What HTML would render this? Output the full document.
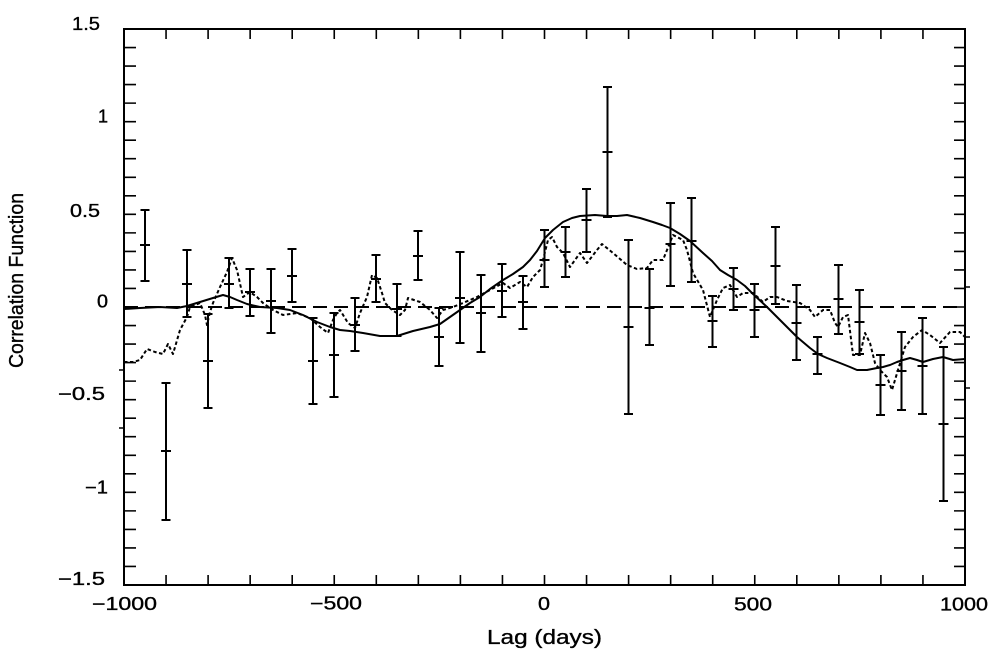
<!DOCTYPE html>
<html><head><meta charset="utf-8"><style>
html,body{margin:0;padding:0;background:#fff;}
svg{display:block;}
text{font-family:"Liberation Sans",sans-serif;fill:#000;stroke:#000;stroke-width:0.35;}
</style></head><body>
<svg width="996" height="652" viewBox="0 0 996 652" xmlns="http://www.w3.org/2000/svg">
<rect width="996" height="652" fill="#fff"/>
<!-- axes frame -->
<rect x="124" y="29" width="841" height="556" fill="none" stroke="#000" stroke-width="2"/>
<!-- x ticks -->
<path stroke="#000" stroke-width="1.6" fill="none" d="
M166.05 585v-10M208.1 585v-10M250.15 585v-10M292.2 585v-10M334.25 585v-10M376.3 585v-10M418.35 585v-10M460.4 585v-10M502.45 585v-10M544.5 585v-10M586.55 585v-10M628.6 585v-10M670.65 585v-10M712.7 585v-10M754.75 585v-10M796.8 585v-10M838.85 585v-10M880.9 585v-10M922.95 585v-10
M166.05 29v10M208.1 29v10M250.15 29v10M292.2 29v10M334.25 29v10M376.3 29v10M418.35 29v10M460.4 29v10M502.45 29v10M544.5 29v10M586.55 29v10M628.6 29v10M670.65 29v10M712.7 29v10M754.75 29v10M796.8 29v10M838.85 29v10M880.9 29v10M922.95 29v10"/>
<!-- y ticks -->
<path stroke="#000" stroke-width="1.6" fill="none" d="
M124 47.53h12M124 66.07h12M124 84.6h12M124 103.13h12M124 121.67h12M124 140.2h12M124 158.73h12M124 177.27h12M124 195.8h12M124 214.33h12M124 232.87h12M124 251.4h12M124 269.93h12M124 288.47h12M124 307h12M124 325.53h12M124 344.07h12M124 362.6h12M124 381.13h12M124 399.67h12M124 418.2h12M124 436.73h12M124 455.27h12M124 473.8h12M124 492.33h12M124 510.87h12M124 529.4h12M124 547.93h12M124 566.47h12
M965 47.53h-11M965 66.07h-11M965 84.6h-11M965 103.13h-11M965 121.67h-11M965 140.2h-11M965 158.73h-11M965 177.27h-11M965 195.8h-11M965 214.33h-11M965 232.87h-11M965 251.4h-11M965 269.93h-11M965 288.47h-11M965 307h-11M965 325.53h-11M965 344.07h-11M965 362.6h-11M965 381.13h-11M965 399.67h-11M965 418.2h-11M965 436.73h-11M965 455.27h-11M965 473.8h-11M965 492.33h-11M965 510.87h-11M965 529.4h-11M965 547.93h-11M965 566.47h-11
M119 370h5M119 428h5M965 287h5M965 337h5M965 388h5"/>
<!-- tick labels y -->
<g font-size="18">
<text x="72" y="30" textLength="28" lengthAdjust="spacingAndGlyphs">1.5</text>
<text x="98" y="122.5">1</text>
<text x="70" y="217" textLength="30" lengthAdjust="spacingAndGlyphs">0.5</text>
<text x="97" y="307.5" textLength="11" lengthAdjust="spacingAndGlyphs">0</text>
<text x="58" y="400" textLength="47" lengthAdjust="spacingAndGlyphs">−0.5</text>
<text x="85" y="493.5" textLength="23" lengthAdjust="spacingAndGlyphs">−1</text>
<text x="58" y="585" textLength="47" lengthAdjust="spacingAndGlyphs">−1.5</text>
</g>
<!-- tick labels x -->
<g font-size="18">
<text x="92" y="610" textLength="65" lengthAdjust="spacingAndGlyphs">−1000</text>
<text x="310" y="609.5" textLength="52" lengthAdjust="spacingAndGlyphs">−500</text>
<text x="538" y="610" textLength="12" lengthAdjust="spacingAndGlyphs">0</text>
<text x="734" y="610.5" textLength="38" lengthAdjust="spacingAndGlyphs">500</text>
<text x="940" y="610.5" textLength="48" lengthAdjust="spacingAndGlyphs">1000</text>
</g>
<!-- axis titles -->
<text x="487" y="644" font-size="20.5" textLength="115" lengthAdjust="spacingAndGlyphs">Lag (days)</text>
<text transform="translate(23,368) rotate(-90)" x="0" y="0" font-size="20.5" textLength="175" lengthAdjust="spacingAndGlyphs">Correlation Function</text>
<!-- zero dashed line -->
<path d="M124 307H965" stroke="#000" stroke-width="2" stroke-dasharray="14 7" fill="none"/>
<!-- solid curve -->
<polyline fill="none" stroke="#000" stroke-width="2" stroke-linejoin="round" points="124,309 140,308 160,307 177,308 187,306 200,302 213,298 223,295 230,297 237,300 247,304 260,307 277,308 290,310 303,315 317,322 330,327 340,330 350,331 363,333 380,336 397,336 413,331 430,327 440,324 450,317 460,310 470,303 480,297 490,289 503,280 513,274 523,267 530,260 537,251 545,238 553,230 563,222 572,218 580,216 595,215 607,216 617,216 627,215 640,218 653,222 662,225 670,228 680,234 690,241 703,253 712,261 720,270 728,275 737,280 745,286 753,294 767,307 780,320 797,337 810,348 818,354 827,358 840,363 850,367 857,370 867,370 877,368 883,367 890,365 897,362 903,360 910,358 917,360 923,362 933,359 943,357 953,360 965,359"/>
<!-- dotted curve -->
<polyline fill="none" stroke="#000" stroke-width="2" stroke-dasharray="3.5 2.5" stroke-linejoin="round" points="124,362 133,362 140,360 147,349 155,352 163,354 168,344 173,354 180,330 187,317 190,307 200,303 205,315 207,325 210,312 213,303 220,287 227,272 232,258 237,270 243,297 250,292 257,297 263,303 273,310 283,315 297,313 310,318 320,327 328,333 333,320 337,313 340,310 348,323 355,328 360,313 367,297 372,275 377,278 382,293 385,303 392,310 400,315 405,310 408,298 420,302 430,310 437,318 443,310 453,307 463,303 477,297 490,290 503,283 510,288 520,282 527,287 533,277 540,270 543,260 548,240 552,237 557,247 563,253 570,267 580,253 587,263 597,250 602,244 613,253 627,265 637,269 647,268 653,260 663,260 673,235 683,240 687,250 693,273 703,290 710,317 717,300 723,288 730,285 737,297 743,293 753,293 763,302 770,297 777,297 787,301 800,303 810,310 815,317 823,310 830,310 835,323 838,327 843,317 848,315 853,355 860,355 865,333 870,343 875,363 880,370 887,377 892,390 898,370 905,347 913,337 922,330 930,335 940,343 950,332 960,332 965,337"/>
<!-- error bars -->
<path stroke="#000" stroke-width="2" fill="none" d="
M145 210V281M140.5 210h9M140.5 281h9M140 245h10
M166 383V520M161.5 383h9M161.5 520h9M161 451h10
M187 250V317M182.5 250h9M182.5 317h9M182 284h10
M208 314V408M203.5 314h9M203.5 408h9M203 361h10
M229 258V308M224.5 258h9M224.5 308h9M224 284h10
M250 269V316M245.5 269h9M245.5 316h9M245 292h10
M271 269V333M266.5 269h9M266.5 333h9M266 301h10
M292 249V302M287.5 249h9M287.5 302h9M287 276h10
M313 318V404M308.5 318h9M308.5 404h9M308 361h10
M334 313V397M329.5 313h9M329.5 397h9M329 355h10
M355 298V351M350.5 298h9M350.5 351h9M350 325h10
M376 255V302M371.5 255h9M371.5 302h9M371 279h10
M397 284V336M392.5 284h9M392.5 336h9M392 309h10
M418 231V280M413.5 231h9M413.5 280h9M413 256h10
M439 308V366M434.5 308h9M434.5 366h9M434 337h10
M460 252V343M455.5 252h9M455.5 343h9M455 298h10
M481 275V352M476.5 275h9M476.5 352h9M476 313h10
M502 264V317M497.5 264h9M497.5 317h9M497 291h10
M523 276V329M518.5 276h9M518.5 329h9M518 302h10
M544.5 230V287M540 230h9M540 287h9M539.5 260h10
M565.5 227V277M561 227h9M561 277h9M560.5 252h10
M586.5 189V252M582 189h9M582 252h9M581.5 220h10
M607.5 87V217M603 87h9M603 217h9M602.5 152h10
M628.5 240V414M624 240h9M624 414h9M623.5 327h10
M649.5 269V345M645 269h9M645 345h9M644.5 308h10
M670.5 203V286M666 203h9M666 286h9M665.5 244h10
M691.5 198V282M687 198h9M687 282h9M686.5 241h10
M712.5 296V347M708 296h9M708 347h9M707.5 321h10
M733.5 268V310M729 268h9M729 310h9M728.5 289h10
M754.5 284V337M750 284h9M750 337h9M749.5 310h10
M775.5 227V304M771 227h9M771 304h9M770.5 266h10
M796.5 285V360M792 285h9M792 360h9M791.5 323h10
M817.5 337V374M813 337h9M813 374h9M812.5 354h10
M838.5 265V334M834 265h9M834 334h9M833.5 299h10
M859.5 290V354M855 290h9M855 354h9M854.5 322h10
M880.5 355V415M876 355h9M876 415h9M875.5 385h10
M901.5 332V410M897 332h9M897 410h9M896.5 371h10
M922.5 318V414M918 318h9M918 414h9M917.5 366h10
M943.5 347V501M939 347h9M939 501h9M938.5 424h10"/>
</svg>
</body></html>
